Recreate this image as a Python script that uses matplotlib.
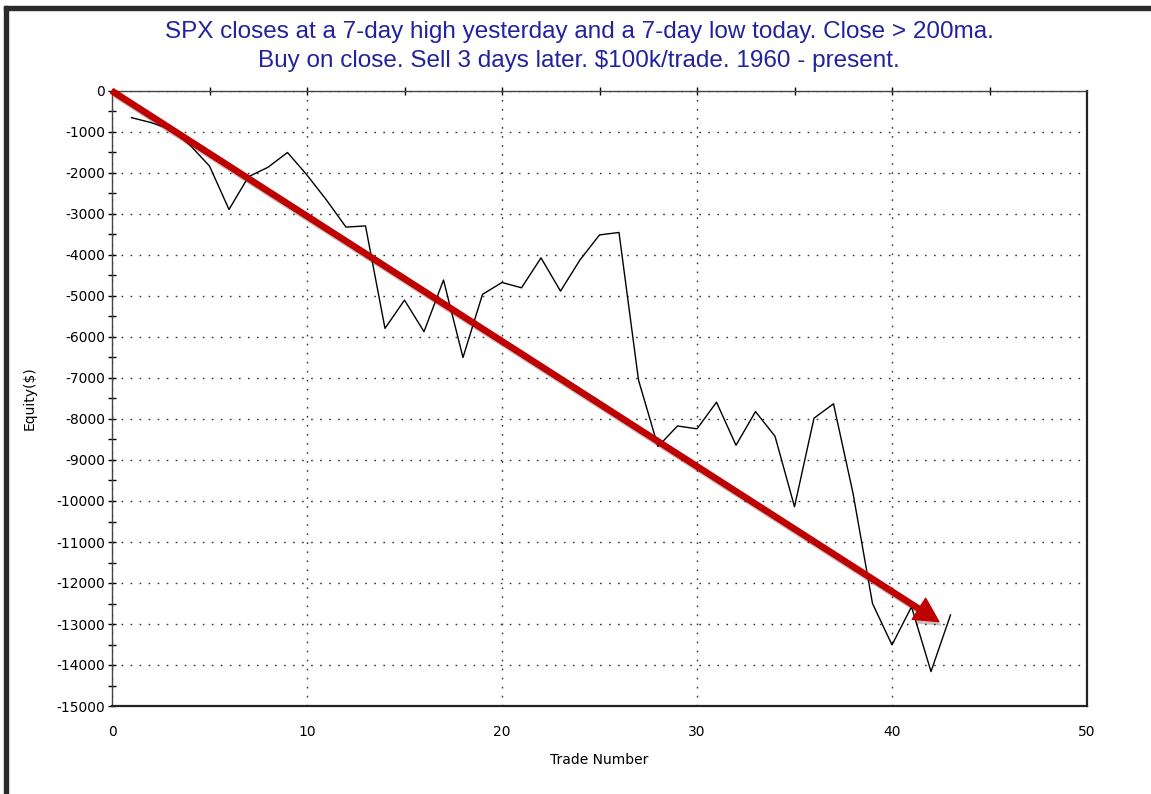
import numpy as np
import matplotlib
matplotlib.use('Agg')
import matplotlib.pyplot as plt
import matplotlib.patheffects as pe
from matplotlib.patches import Rectangle
from matplotlib.ticker import MultipleLocator

plt.rcParams['axes.unicode_minus'] = False

# Equity curve
trade = list(range(1, 44))
equity = [-650, -770, -935, -1320, -1830, -2890, -2090, -1860, -1500, -2050,
          -2660, -3320, -3290, -5790, -5100, -5870, -4610, -6500, -4960, -4670,
          -4800, -4070, -4880, -4120, -3510, -3450, -7050, -8670, -8170, -8240,
          -7590, -8640, -7820, -8420, -10140, -7980, -7630, -9810, -12500, -13510,
          -12580, -14160, -12780]

# Trend arrow drawn on top (start, end in data units)
arrow_start = (0, 0)
arrow_end = (42.4, -12940)

title1 = 'SPX closes at a 7-day high yesterday and a 7-day low today. Close > 200ma.'
title2 = 'Buy on close. Sell 3 days later. $100k/trade. 1960 - present.'

W, H = 1151, 794
fig = plt.figure(figsize=(W / 100, H / 100), dpi=100)
ax = fig.add_axes([112 / W, 1 - 706 / H, (1087 - 112) / W, (706 - 91) / H])

ax.plot(trade, equity, color='black', lw=1.0, zorder=3)

ax.set_xlim(0, 50)
ax.set_ylim(-15000, 0)
ax.xaxis.set_major_locator(MultipleLocator(10))
ax.yaxis.set_major_locator(MultipleLocator(1000))
ax.yaxis.set_minor_locator(MultipleLocator(500))

ax.grid(True, color='#333333', lw=1.0, linestyle=(0, (1.2, 5.3)))

# ticks: left inout, top every 5, bottom none
ax.tick_params(axis='y', which='both', direction='inout', length=6, width=1,
               labelsize=10, pad=2)
ax.tick_params(axis='x', which='both', bottom=False, labelsize=10, pad=10)
sec = ax.secondary_xaxis('top')
sec.set_xticks(np.arange(5, 50, 5))
sec.tick_params(direction='inout', length=6, width=1, labeltop=False)
sec.spines['top'].set_visible(False)

for s in ['top', 'left']:
    ax.spines[s].set_linewidth(1.0)
    ax.spines[s].set_color('#444444')
for s in ['bottom', 'right']:
    ax.spines[s].set_linewidth(1.6)
    ax.spines[s].set_color('#222222')

ax.set_xlabel('Trade Number', fontsize=10, labelpad=10)
ax.set_ylabel('Equity($)', fontsize=10, labelpad=14)

ax.annotate('', xy=arrow_end, xytext=arrow_start, zorder=5,
            arrowprops=dict(arrowstyle='simple,head_length=1.7,head_width=1.8,tail_width=0.38',
                            mutation_scale=10, color='#bf0000', shrinkA=0, shrinkB=0,
                            path_effects=[pe.SimplePatchShadow(offset=(2, -3), alpha=0.25),
                                          pe.Normal()]))

fig.text(579 / W, 1 - 32 / H, title1, ha='center', va='center', fontsize=17.5,
         family='Liberation Sans', color='#22229e')
fig.text(579 / W, 1 - 61 / H, title2, ha='center', va='center', fontsize=17.5,
         family='Liberation Sans', color='#22229e')

# dark window frame on the left and top edges
fig.patches.append(Rectangle((4 / W, 0), 4 / W, 1 - 6 / H, transform=fig.transFigure,
                             color='#2a2a2a', zorder=10))
fig.patches.append(Rectangle((4 / W, 1 - 10 / H), 1 - 4 / W, 4 / H, transform=fig.transFigure,
                             color='#2a2a2a', zorder=10))

plt.savefig('out.png', dpi=100)
plt.close()
